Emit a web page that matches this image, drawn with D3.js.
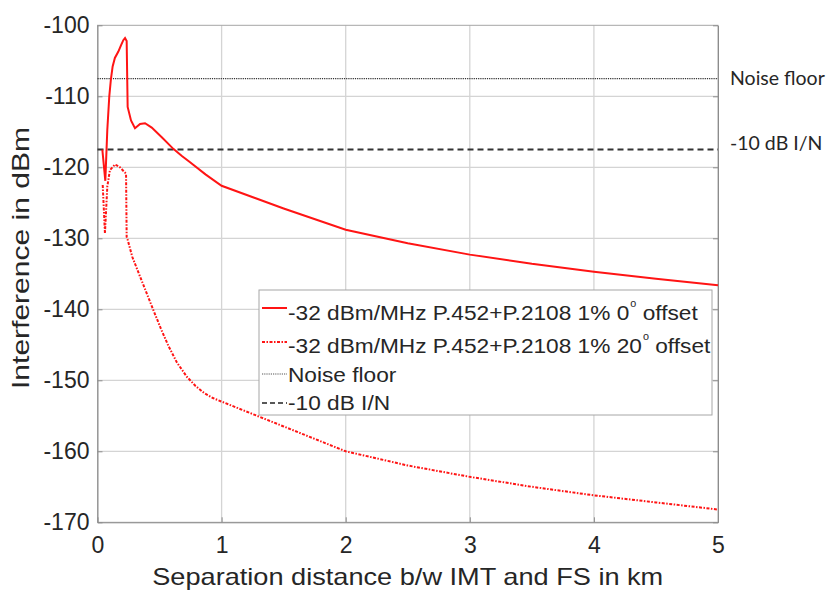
<!DOCTYPE html>
<html>
<head>
<meta charset="utf-8">
<script src="https://cdn.jsdelivr.net/npm/d3@7"></script>
<style>
  body { margin: 0; background: #fff; }
  text { font-family: "Liberation Sans", Arial, sans-serif; fill: #262626; }
</style>
</head>
<body>
<div id="chart"></div>
<script>
var width = 830,
    height = 592;

// values
var dist0 = [0.039, 0.063, 0.079, 0.095, 0.108, 0.122, 0.14, 0.168, 0.19, 0.208, 0.222, 0.235, 0.243, 0.27, 0.302, 0.343, 0.383, 0.437, 0.52, 0.611, 0.68, 0.746, 0.87, 1.0, 1.5, 2.0, 2.5, 3.0, 3.5, 4.0, 4.5, 5.0];
var interf0 = [-117.5, -121.9, -114.7, -110.0, -107.6, -105.8, -104.6, -103.7, -102.8, -102.1, -101.8, -102.2, -111.5, -113.4, -114.5, -113.9, -113.8, -114.4, -115.8, -117.4, -118.4, -119.3, -121.0, -122.6, -125.8, -128.8, -130.7, -132.3, -133.6, -134.7, -135.7, -136.6];

var dist20 = [0.042, 0.06, 0.079, 0.1, 0.141, 0.181, 0.23, 0.235, 0.243, 0.28, 0.343, 0.40, 0.45, 0.51, 0.57, 0.64, 0.72, 0.79, 0.86, 0.93, 1.0, 1.5, 2.0, 2.5, 3.0, 3.5, 4.0, 4.5, 5.0];
var interf20 = [-122.5, -129.3, -122.7, -120.4, -119.6, -120.0, -120.9, -129.8, -130.2, -132.6, -135.4, -137.9, -140.1, -142.7, -145.1, -147.5, -149.5, -150.8, -151.8, -152.5, -153.0, -156.5, -160.0, -162.0, -163.6, -165.0, -166.2, -167.2, -168.2];

var noiseFloor = -107.5;
var iN10 = -117.5;

var xTicks = [0, 1, 2, 3, 4, 5];
var yTicks = [-100, -110, -120, -130, -140, -150, -160, -170];

var legendLabels = ["-32 dBm/MHz P.452+P.2108 1% 0", "-32 dBm/MHz P.452+P.2108 1% 20", "Noise floor", "-10 dB I/N"];

var x = d3.scaleLinear().domain([0, 5]).range([97.5, 718]);
var y = d3.scaleLinear().domain([-170, -100]).range([522.3, 25.3]);

var svg = d3.select("#chart").append("svg")
  .attr("width", width)
  .attr("height", height);

// grid
svg.append("g").selectAll("line")
  .data(xTicks.slice(1, -1))
  .enter().append("line")
  .attr("x1", function(d) { return x(d); })
  .attr("x2", function(d) { return x(d); })
  .attr("y1", y(-170)).attr("y2", y(-100))
  .attr("stroke", "#d4d4d4").attr("stroke-width", 1.3);

svg.append("g").selectAll("line")
  .data(yTicks.slice(1, -1))
  .enter().append("line")
  .attr("x1", x(0)).attr("x2", x(5))
  .attr("y1", function(d) { return y(d); })
  .attr("y2", function(d) { return y(d); })
  .attr("stroke", "#d4d4d4").attr("stroke-width", 1.3);

// box
svg.append("rect")
  .attr("x", x(0)).attr("y", y(-100))
  .attr("width", x(5) - x(0)).attr("height", y(-170) - y(-100))
  .attr("fill", "none").attr("stroke", "#a6a6a6").attr("stroke-width", 1);

// axes, ticks inward
var fmt = function(d) { return String(d); };
var xAxis = svg.append("g")
  .attr("transform", "translate(0," + y(-170) + ")")
  .call(d3.axisBottom(x).tickValues(xTicks).tickFormat(fmt).tickSizeInner(-5).tickSizeOuter(0).tickPadding(14));
var yAxis = svg.append("g")
  .attr("transform", "translate(" + x(0) + ",0)")
  .call(d3.axisLeft(y).tickValues(yTicks).tickFormat(fmt).tickSizeInner(-5).tickSizeOuter(0).tickPadding(8));
svg.append("g")
  .attr("transform", "translate(" + x(5) + ",0)")
  .call(d3.axisRight(y).tickValues(yTicks).tickSizeInner(-5).tickSizeOuter(0).tickFormat(""));

svg.selectAll(".tick line").attr("stroke", "#8c8c8c");
svg.selectAll(".domain").attr("stroke", "#8c8c8c");
[xAxis, yAxis].forEach(function(a) {
  a.selectAll("text").style("font-size", "23px").attr("fill", "#262626");
});

// reference lines
svg.append("line")
  .attr("x1", x(0)).attr("x2", x(5))
  .attr("y1", y(noiseFloor)).attr("y2", y(noiseFloor))
  .attr("stroke", "#333").attr("stroke-width", 1.2).attr("stroke-dasharray", "1.2,1");
svg.append("line")
  .attr("x1", x(0)).attr("x2", x(5))
  .attr("y1", y(iN10)).attr("y2", y(iN10))
  .attr("stroke", "#333").attr("stroke-width", 2).attr("stroke-dasharray", "6,4");

// curves
var line = d3.line()
  .x(function(d) { return x(d[0]); })
  .y(function(d) { return y(d[1]); });

svg.append("path")
  .datum(d3.zip(dist0, interf0))
  .attr("d", line)
  .attr("fill", "none").attr("stroke", "#ff1414").attr("stroke-width", 2);

svg.append("path")
  .datum(d3.zip(dist20, interf20))
  .attr("d", line)
  .attr("fill", "none").attr("stroke", "#ff1414").attr("stroke-width", 2)
  .attr("stroke-dasharray", "3,1.5,1.5,1.5");

// legend
var lg = svg.append("g").attr("transform", "translate(259,290)");
lg.append("rect")
  .attr("width", 453).attr("height", 125)
  .attr("fill", "#fff").attr("stroke", "#a6a6a6").attr("stroke-width", 1);

var sampleY = [18, 52, 84, 113];
var textY = [30, 63, 92, 120];
var sample = [
  {stroke: "#ff1414", w: 2, dash: null},
  {stroke: "#ff1414", w: 2, dash: "3,1.5,1.5,1.5"},
  {stroke: "#555", w: 1.2, dash: "1.2,1"},
  {stroke: "#222", w: 1.6, dash: "5,3"}
];
legendLabels.forEach(function(lbl, i) {
  lg.append("line")
    .attr("x1", 3).attr("x2", 28)
    .attr("y1", sampleY[i]).attr("y2", sampleY[i])
    .attr("stroke", sample[i].stroke).attr("stroke-width", sample[i].w)
    .attr("stroke-dasharray", sample[i].dash);
  var t = lg.append("text")
    .attr("transform", "translate(29," + textY[i] + ") scale(1.08,1)")
    .style("font-size", "21px")
    .text(lbl);
  if (i < 2) {
    t.append("tspan").attr("dy", -13).attr("dx", 1).style("font-size", "10px").text("o");
    t.append("tspan").attr("dy", 13).text(" offset");
  }
});

// axis titles
svg.append("text")
  .attr("x", (x(0) + x(5)) / 2).attr("y", 585)
  .attr("text-anchor", "middle")
  .attr("textLength", 511).attr("lengthAdjust", "spacingAndGlyphs")
  .style("font-size", "24px")
  .text("Separation distance b/w IMT and FS in km");

svg.append("text")
  .attr("transform", "translate(29,258) rotate(-90)")
  .attr("text-anchor", "middle")
  .attr("textLength", 262).attr("lengthAdjust", "spacingAndGlyphs")
  .style("font-size", "24px")
  .text("Interference in dBm");

// annotations on the right
svg.append("text")
  .attr("x", 730).attr("y", 84.5)
  .style("font-family", "Lato, 'Open Sans', sans-serif")
  .style("font-size", "19.5px")
  .text("Noise floor");
svg.append("text")
  .attr("x", 730).attr("y", 150)
  .style("font-family", "Lato, 'Open Sans', sans-serif")
  .style("font-size", "19.5px")
  .text("-10 dB I/N");
</script>
</body>
</html>
